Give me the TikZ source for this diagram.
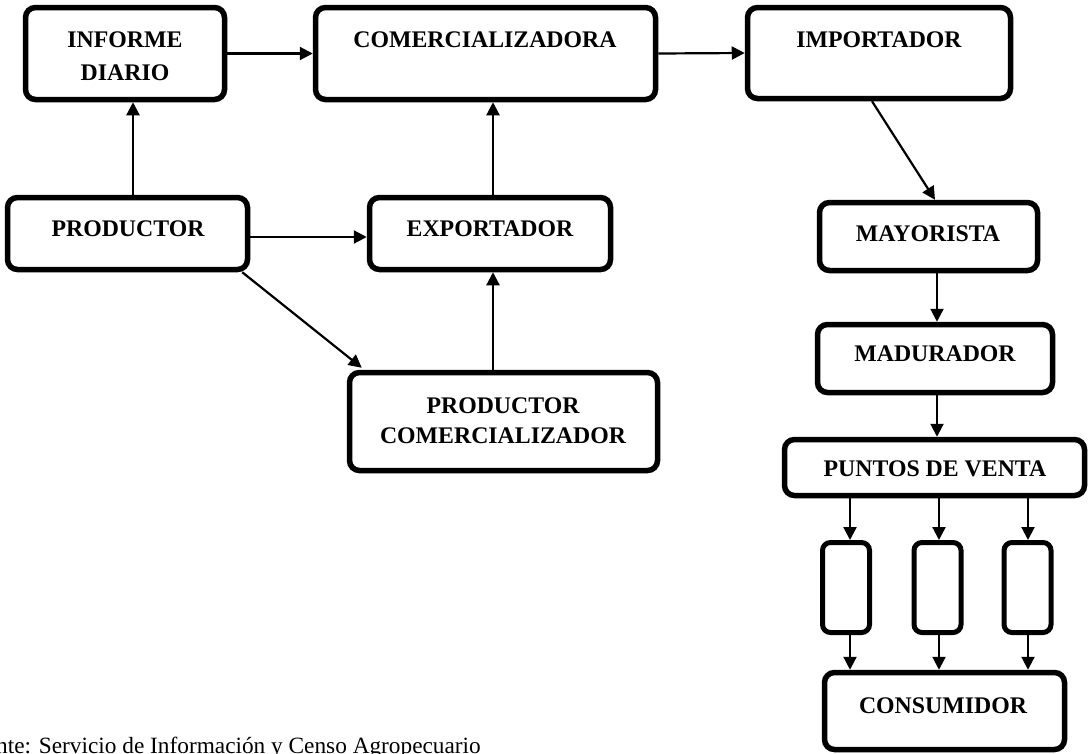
\documentclass[tikz,border=0pt]{standalone}
\usepackage{fontspec}
\setmainfont{Liberation Serif}
\usetikzlibrary{arrows.meta}
\tikzset{
  box/.style={draw=black, line width=5.5pt, rounded corners=10pt, inner sep=0pt, fill=white},
  smallbox/.style={draw=black, line width=5pt, rounded corners=8pt, inner sep=0pt, minimum width=47pt, minimum height=90pt},
  lbl/.style={font=\fontsize{23.8}{28}\selectfont\bfseries, anchor=base, inner sep=0pt},
  arr/.style={line width=2.2pt, -{Triangle[length=13pt,width=13pt]}},
}
\begin{document}
\begin{tikzpicture}[x=1pt,y=-1pt]
\useasboundingbox (0,0) rectangle (1089,753);
\clip (0,0) rectangle (1089,753);
% boxes
\node[box, minimum width=199pt, minimum height=92pt] (inf) at (125,53.5) {};
\node[box, minimum width=340pt, minimum height=92pt] (com) at (485.5,53.5) {};
\node[box, minimum width=263pt, minimum height=91pt] (imp) at (879,53) {};
\node[box, minimum width=240pt, minimum height=72pt] (prod) at (127.5,233.5) {};
\node[box, minimum width=241pt, minimum height=72pt] (exp) at (490,233.5) {};
\node[box, minimum width=308pt, minimum height=98pt] (pc) at (503.5,421.5) {};
\node[box, minimum width=218pt, minimum height=68pt] (may) at (928.5,236.5) {};
\node[box, minimum width=235pt, minimum height=68pt] (mad) at (935,358.5) {};
\node[box, minimum width=300pt, minimum height=56pt] (pv) at (934.5,467.5) {};
\node[smallbox] (s1) at (846,587.5) {};
\node[smallbox] (s2) at (937.5,587.5) {};
\node[smallbox] (s3) at (1027.5,587.5) {};
\node[box, minimum width=240pt, minimum height=77pt] (con) at (944.5,711) {};
% labels
\node[lbl] (tinf1) at (125,47) {INFORME};
\node[lbl] (tinf2) at (125,80) {DIARIO};
\node[lbl] (tcom) at (485,47) {COMERCIALIZADORA};
\node[lbl] (timp) at (879,47) {IMPORTADOR};
\node[lbl] (tprod) at (128,236) {PRODUCTOR};
\node[lbl] (texp) at (490,236) {EXPORTADOR};
\node[lbl] (tpc1) at (503,413) {PRODUCTOR};
\node[lbl] (tpc2) at (503,443) {COMERCIALIZADOR};
\node[lbl] (tmay) at (928,241) {MAYORISTA};
\node[lbl] (tmad) at (935,361) {MADURADOR};
\node[lbl] (tpv) at (935,476) {PUNTOS DE VENTA};
\node[lbl] (tcon) at (943,713) {CONSUMIDOR};
% connectors
\draw[arr] (inf.east) -- (com.west);
\draw[arr] (com.east) -- (imp.west);
\coordinate (c1) at (133,0);
\draw[arr] (prod.north -| c1) -- (inf.south -| c1);
\draw[arr] ([yshift=-3.5pt]prod.east) -- ([yshift=-3.5pt]exp.west);
\coordinate (c2) at (493,0);
\draw[arr] (exp.north -| c2) -- (com.south -| c2);
\draw[arr] (pc.north -| c2) -- (exp.south -| c2);
\draw[arr] ([xshift=-8pt]prod.south east) -- ([xshift=15pt,yshift=2pt]pc.north west);
\draw[arr] ([xshift=-7pt]imp.south) -- ([xshift=6.5pt]may.north);
\coordinate (c3) at (937,0);
\draw[arr] (may.south -| c3) -- (mad.north -| c3);
\draw[arr] (mad.south -| c3) -- (pv.north -| c3);
\foreach \s/\xx in {s1/850, s2/939, s3/1028}{
  \coordinate (cx\s) at (\xx,0);
  \draw[arr] (pv.south -| cx\s) -- (\s.north -| cx\s);
  \draw[arr] (\s.south -| cx\s) -- (con.north -| cx\s);
}
% footer
\node[anchor=base west, inner sep=0pt, font=\fontsize{23.3}{28}\selectfont] (src) at (-4,753) {nte: Servicio de Información y Censo Agropecuario};
\end{tikzpicture}
\end{document}
